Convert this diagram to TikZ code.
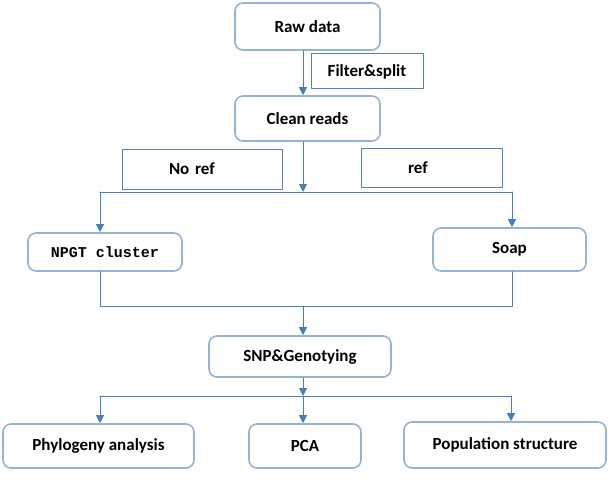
\documentclass[tikz,border=0pt]{standalone}
\usepackage{fontspec}
\setmainfont{Carlito}
\newfontfamily\npgtfont{Liberation Mono}
\usetikzlibrary{arrows.meta}
\definecolor{flowline}{HTML}{4A7EBB}
\definecolor{boxline}{HTML}{95B3D7}
\definecolor{tagline}{HTML}{4F81BD}
\tikzset{
	stage/.style={draw=boxline,line width=1.6pt,rounded corners=8pt,fill=white,font=\fontsize{17}{20}\selectfont\bfseries,inner sep=0pt},
	tag/.style={draw=tagline,line width=1pt,fill=white,font=\fontsize{17}{20}\selectfont\bfseries,inner sep=0pt},
	flow/.style={draw=flowline,line width=1pt}
}
\begin{document}
\begin{tikzpicture}[x=1pt,y=-1pt,line cap=round,line join=round,>={Triangle[width=8pt,length=8pt]}]
			\useasboundingbox (0,0) rectangle (616,487);
			\node[stage,minimum width=145,minimum height=47] (raw) at (307.5,26.5) {Raw data};
			\node[tag,minimum width=112,minimum height=35] (filter) at (367,71.5) {Filter\&split};
			\node[stage,minimum width=145,minimum height=45] (clean) at (307.5,118.5) {Clean reads};
			\node[tag,minimum height=40,text width=66,inner xsep=47,align=left] (noref) at (202,169) {No ref};
			\node[tag,minimum height=39,text width=47,inner xsep=47,align=left] (ref) at (431.5,167.5) {ref};
			\node[stage,minimum width=154,minimum height=38,font=\fontsize{15}{18}\npgtfont\bfseries] (npgt) at (105,252) {NPGT cluster};
			\node[stage,minimum width=153,minimum height=43] (soap) at (509.5,249.5) {Soap};
			\node[stage,minimum width=182,minimum height=41] (snp) at (300,356.5) {SNP\&Genotying};
			\node[stage,minimum width=191,minimum height=44] (phylo) at (98.5,446) {Phylogeny analysis};
			\node[stage,minimum width=112,minimum height=44] (pca) at (305,446) {PCA};
			\node[stage,minimum width=202,minimum height=46] (pop) at (505,445) {Population structure};
			\coordinate (trunk) at (303,0);
			\coordinate (split) at (303,192);
			\coordinate (splitl) at (100,192);
			\coordinate (splitr) at (512,192);
			\coordinate (join) at (303,306);
			\coordinate (joinl) at (100,306);
			\coordinate (joinr) at (512,306);
			\coordinate (fan) at (303,396);
			\coordinate (fanl) at (100,396);
			\coordinate (fanr) at (511,396);
			\draw [flow,->] (raw.south -| trunk)-- (clean.north -| trunk);
			\draw [flow,->] (clean.south -| trunk)-- (split);
			\draw [flow] (splitl)-- (splitr);
			\draw [flow,->] (splitl)-- (splitl |- npgt.north);
			\draw [flow,->] (splitr)-- (splitr |- soap.north);
			\draw [flow] (joinl |- npgt.south)-- (joinl)-- (joinr)-- (joinr |- soap.south);
			\draw [flow,->] (join)-- (join |- snp.north);
			\draw [flow,->] (snp.south -| trunk)-- (fan);
			\draw [flow] (fanl)-- (fanr);
			\draw [flow,->] (fanl)-- (fanl |- phylo.north);
			\draw [flow,->] (fan)-- (fan |- pca.north);
			\draw [flow,->] (fanr)-- (fanr |- pop.north);
			\end{tikzpicture}
\end{document}
